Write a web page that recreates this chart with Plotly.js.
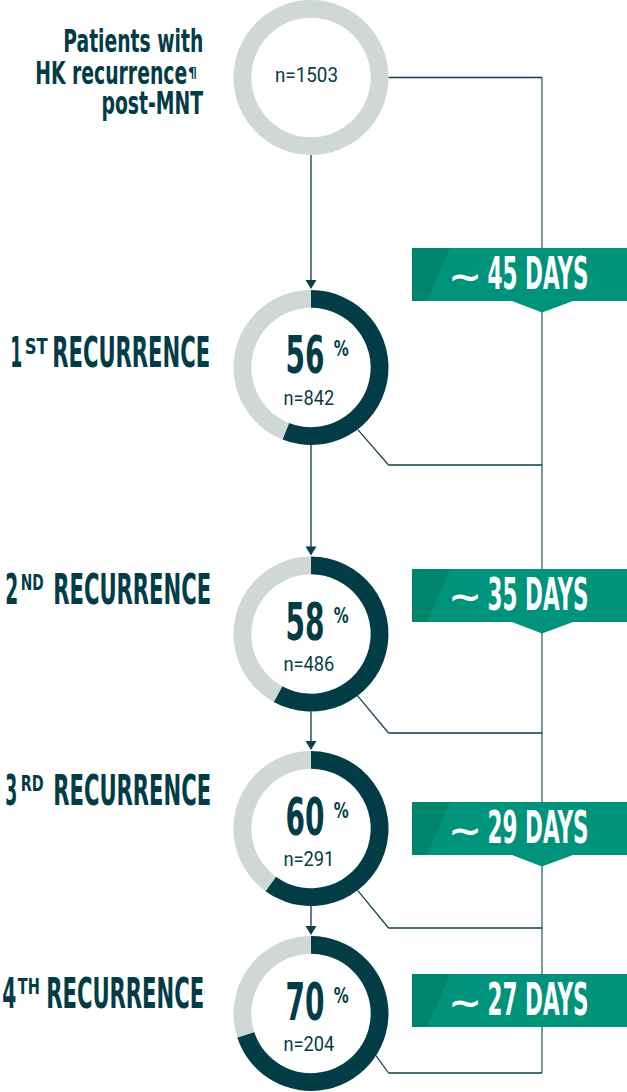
<!DOCTYPE html>
<html><head><meta charset="utf-8">
<script src="https://cdn.plot.ly/plotly-3.0.1.min.js"></script>
<style>html,body{margin:0;padding:0;background:#fff;}#chart{width:627px;height:1092px;}</style>
</head><body><div id="chart"></div>
<script>
// ---------- data ----------
const titleLines = ["Patients with", "HK recurrence", "post-MNT"];
const titleMark = "¶";
const baseN = 1503;
const ordinals = ["1", "2", "3", "4"];
const ordinalSuffixes = ["ST", "ND", "RD", "TH"];
const stageWord = "RECURRENCE";
const recurrencePct = [56, 58, 60, 70];
const recurrenceN = [842, 486, 291, 204];
const approxSign = "∼";
const daysBetween = [45, 35, 29, 27];
const daysUnit = "DAYS";

// ---------- layout constants ----------
const W = 627, H = 1092;
const DARK = "#023c47", GRAY = "#d0d7d7", GREEN = "#00937b", GREEN_D = "#00856d";
const LINE = "#0c3f49", VLINE = "#3f6d76";
const COND = "Liberation Sans Narrow, DejaVu Sans Condensed, Arial Narrow, sans-serif";
const REG = "Roboto, Liberation Sans, sans-serif";
const CX = 311, R = 77.5, HOLE = 0.77;
const CY = [77.5, 367.5, 634, 828.5, 1013.5];
const VX = 542;
const BAN_X0 = 412, BAN_X1 = 627, BAN_H = 53, BAN_DARK_TOP = 450, BAN_DARK_BOT = 427;
const PTR_L = 512, PTR_R = 573, PTR_H = 11.5;
const BAN_TOP = [248, 569, 802, 974];
const JOIN_Y = [465, 733, 928, 1073];
const JOIN_ANG = [53, 53, 53, 33];
// stage labels: ordinal digit, raised suffix, word
const LABEL_Y = [353, 589, 790, 993];
const DIGIT_L = [9.5, 4.5, 4.5, 1.5], DIGIT_W = [12, 13, 12, 14];
const SUF_L = [23.5, 20, 20, 17], SUF_W = [23, 23, 23, 22];
const WORD_R = [211, 212, 212, 205], WORD_W = 158;
// title block
const TITLE_Y = [41, 73.3, 103.3];
const TITLE_RIGHT = [204, 188, 204];
const TITLE_W = [140, 152, 102];
const MARK_X = 187, MARK_Y = 72.3, MARK_W = 9;
const PCT_W = 39, SIGN_W = 15, N_W = 51, N0_W = 63, DAYS_W = 101, TILDE_W = 34;

const px = x => x / W;
const py = y => 1 - y / H;
const P = (x, y) => px(x).toFixed(5) + "," + py(y).toFixed(5);

// ---------- traces ----------
function dom(cy) { return {x: [px(CX - R), px(CX + R)], y: [py(cy + R), py(cy - R)]}; }
const traces = [];
traces.push({type: "pie", values: [baseN], labels: ["all"], marker: {colors: [GRAY], line: {width: 0}},
  hole: HOLE, domain: dom(CY[0]), textinfo: "none", hoverinfo: "skip", sort: false, showlegend: false});
recurrencePct.forEach((p, i) => traces.push({
  type: "pie", values: [p, 100 - p], labels: ["recurred", "not"], marker: {colors: [DARK, GRAY], line: {width: 0}},
  hole: HOLE, direction: "clockwise", sort: false, rotation: 0, domain: dom(CY[i + 1]),
  textinfo: "none", hoverinfo: "skip", showlegend: false}));

// ---------- shapes ----------
const shapes = [];
const ln = (x0, y0, x1, y1, c, w) => shapes.push({type: "line", xref: "paper", yref: "paper",
  x0: px(x0), y0: py(y0), x1: px(x1), y1: py(y1), line: {color: c, width: w}, layer: "below"});
const poly = (pts, c) => shapes.push({type: "path", xref: "paper", yref: "paper",
  path: "M" + pts.map(p => P(p[0], p[1])).join("L") + "Z", fillcolor: c, line: {width: 0}, layer: "below"});

ln(CX + R, CY[0], VX, CY[0], LINE, 1.3);
ln(VX, CY[0], VX, JOIN_Y[JOIN_Y.length - 1], VLINE, 1.4);
for (let i = 0; i < CY.length - 1; i++) {
  const y0 = CY[i] + R, tip = CY[i + 1] - R - 1;
  ln(CX, y0, CX, tip - 8, LINE, 1.3);
  poly([[CX - 5.5, tip - 9], [CX + 5.5, tip - 9], [CX, tip]], LINE);
}
recurrencePct.forEach((p, i) => {
  const a = JOIN_ANG[i] * Math.PI / 180, c = CY[i + 1];
  const sx = CX + R * Math.cos(a), sy = c + R * Math.sin(a);
  ln(sx, sy, CX + R, JOIN_Y[i], LINE, 1.2);
  ln(CX + R, JOIN_Y[i], VX, JOIN_Y[i], LINE, 1.3);
});
daysBetween.forEach((d, i) => {
  const t = BAN_TOP[i], b = t + BAN_H;
  const pts = [[BAN_X0, t], [BAN_X1, t], [BAN_X1, b]];
  if (i < daysBetween.length - 1) pts.push([PTR_R, b], [VX, b + PTR_H], [PTR_L, b]);
  pts.push([BAN_X0, b]);
  poly(pts, GREEN);
  poly([[BAN_X0, t], [BAN_DARK_TOP, t], [BAN_DARK_BOT, b], [BAN_X0, b]], GREEN_D);
});

// ---------- annotations (condensed by fitting to reference widths) ----------
const annotations = [], fitW = [];
function ann(text, x, y, xanchor, font, w) {
  annotations.push({text, x: px(x), y: py(y), xref: "paper", yref: "paper", xanchor, yanchor: "middle",
    showarrow: false, font, align: xanchor === "center" ? "center" : xanchor, borderpad: 0});
  fitW.push(w);
}
const fB = (size, color) => ({family: COND, size, color, weight: 700});
const fR = size => ({family: REG, size, color: DARK});
titleLines.forEach((t, i) => ann(t, TITLE_RIGHT[i], TITLE_Y[i], "right", fB(32, DARK), TITLE_W[i]));
ann(titleMark, MARK_X, MARK_Y, "left", {family: "DejaVu Sans", size: 14, color: DARK, weight: 700}, MARK_W);
ann("n=" + baseN, 306.5, CY[0] - 2, "center", fR(20), N0_W);
recurrencePct.forEach((p, i) => {
  const c = CY[i + 1], ly = LABEL_Y[i];
  ann(ordinals[i], DIGIT_L[i], ly, "left", fB(42, DARK), DIGIT_W[i]);
  ann(ordinalSuffixes[i], SUF_L[i], ly - 6.5, "left", fB(21, DARK), SUF_W[i]);
  ann(stageWord, WORD_R[i], ly, "right", fB(42, DARK), WORD_W);
  ann(String(p), 325, c - 12, "right", fB(52, DARK), PCT_W);
  ann("%", 333, c - 18, "left", fB(21, DARK), SIGN_W);
  ann("n=" + recurrenceN[i], 309, c + 30, "center", fR(20), N_W);
});
daysBetween.forEach((d, i) => {
  const t = BAN_TOP[i];
  ann(approxSign, 465, t + 28, "center", {family: "DejaVu Sans", size: 36, color: "#ffffff", weight: 700}, TILDE_W);
  ann(d + " " + daysUnit, 487, t + 25.5, "left", fB(44, "#ffffff"), DAYS_W);
});

const layout = {
  width: W, height: H, margin: {l: 0, r: 0, t: 0, b: 0, autoexpand: false},
  paper_bgcolor: "#ffffff", plot_bgcolor: "#ffffff", showlegend: false,
  shapes, annotations
};

const gd = document.getElementById("chart");
function applyFit() {
  gd.querySelectorAll("g.annotation").forEach(g => {
    const i = +g.getAttribute("data-index");
    const tw = fitW[i];
    if (!tw) return;
    const t = g.querySelector("text.annotation-text");
    if (!t) return;
    const w = t.getBBox().width;
    if (!w) return;
    const s = tw / w;
    const X = annotations[i].x * W;
    g.setAttribute("transform", `translate(${X},0) scale(${s.toFixed(4)},1) translate(${-X},0)`);
  });
}
Plotly.newPlot(gd, traces, layout, {displayModeBar: false, staticPlot: true}).then(() => {
  applyFit();
  gd.on("plotly_afterplot", applyFit);
  let k = 0;
  const iv = setInterval(() => { applyFit(); if (++k > 30) clearInterval(iv); }, 100);
});
applyFit();
</script></body></html>
